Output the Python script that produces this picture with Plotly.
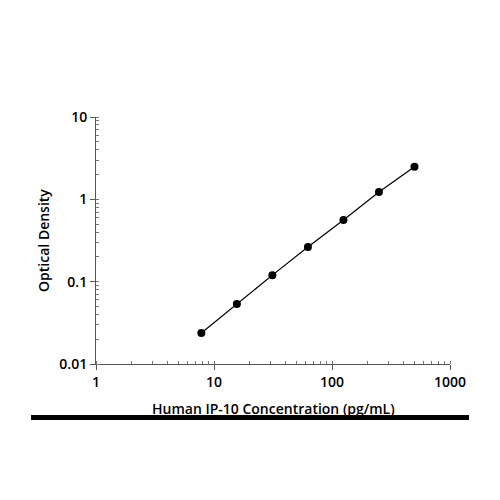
import plotly.graph_objects as go

concentration = [7.8125, 15.625, 31.25, 62.5, 125, 250, 500]
optical_density = [0.0238, 0.0536, 0.120, 0.264, 0.562, 1.23, 2.48]
x_ticks = [1, 10, 100, 1000]
x_tick_labels = ["1", "10", "100", "1000"]
y_ticks = [0.01, 0.1, 1, 10]
y_tick_labels = ["0.01", "0.1", "1", "10"]

fig = go.Figure()
fig.add_trace(go.Scatter(
    x=concentration, y=optical_density, mode="lines+markers",
    line=dict(color="black", width=1.2),
    marker=dict(color="black", size=8),
    showlegend=False,
))

font_family = "Open Sans, Liberation Sans, sans-serif"
axis_common = dict(
    type="log", showgrid=False, zeroline=False,
    showline=True, linecolor="#555", linewidth=1,
    ticks="outside", ticklen=5, tickcolor="#555",
    tickfont=dict(family=font_family, size=14, color="black", weight=600),
    minor=dict(ticks="inside", ticklen=3, tickcolor="#777", showgrid=False, dtick="D1"),
)
fig.update_xaxes(range=[0, 3], tickvals=x_ticks, ticktext=x_tick_labels, **axis_common)
fig.update_yaxes(range=[-2, 1], tickvals=y_ticks, ticktext=y_tick_labels, **axis_common)

fig.add_annotation(text="Human IP-10 Concentration (pg/mL)", xref="paper", yref="paper",
                   x=0.5, y=-0.182, xanchor="center", yanchor="middle", showarrow=False,
                   font=dict(family=font_family, size=14, color="black", weight=600))
fig.add_annotation(text="Optical Density", xref="paper", yref="paper",
                   x=-0.15, y=0.502, xanchor="center", yanchor="middle", showarrow=False,
                   textangle=-90,
                   font=dict(family=font_family, size=14, color="black", weight=600))
fig.add_shape(type="line", xref="paper", yref="paper", x0=-0.1836, x1=1.0537,
              y0=-0.2166, y1=-0.2166, line=dict(color="black", width=5))

fig.update_layout(
    width=500, height=500,
    margin=dict(l=88, r=58, t=109, b=144),
    paper_bgcolor="white", plot_bgcolor="white",
)
fig.write_html("out.html")
